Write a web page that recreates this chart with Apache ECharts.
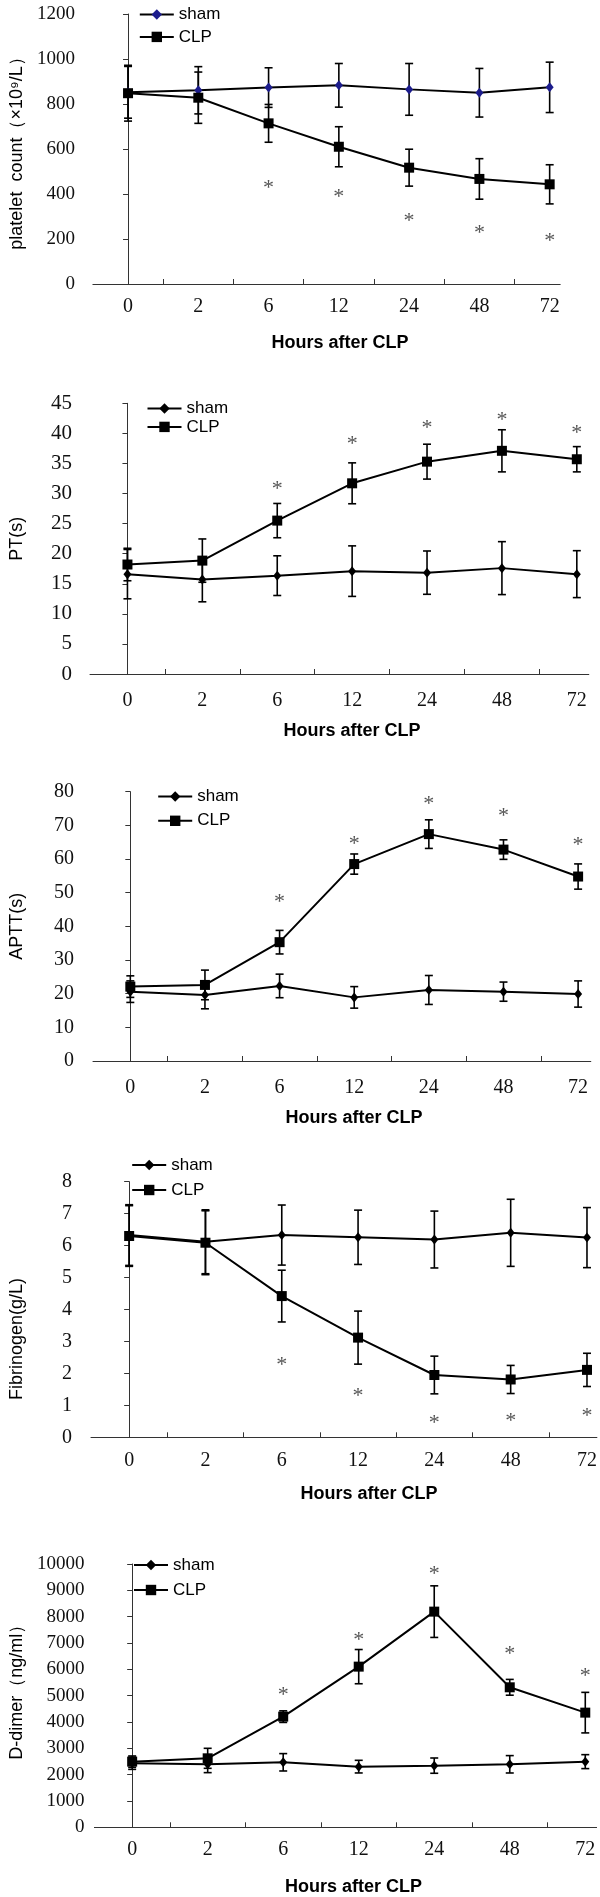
<!DOCTYPE html>
<html><head><meta charset="utf-8">
<script src="https://cdn.jsdelivr.net/npm/echarts@6/dist/echarts.min.js"></script>
<style>html,body{margin:0;padding:0;background:#fff}#c{width:600px;height:1897px}</style>
</head><body><div id="c"></div>
<script>
// ---- data ----
const categories = ['0', '2', '6', '12', '24', '48', '72'];

const plateletSham    = [852, 861, 873, 883, 865, 850, 874];
const plateletShamErr = [115, 105, 88, 97, 115, 108, 112];
const plateletCLP     = [848, 828, 714, 610, 517, 467, 443];
const plateletCLPErr  = [124, 114, 84, 89, 82, 90, 87];
const plateletStar    = [null, null, 450, 406, 302, 247, 213];
const plateletTicks   = [0, 1200, 200];

const ptSham    = [16.6, 15.7, 16.35, 17.1, 16.85, 17.6, 16.6];
const ptShamErr = [4.1, 3.7, 3.3, 4.2, 3.6, 4.4, 3.9];
const ptCLP     = [18.2, 18.85, 25.5, 31.7, 35.3, 37.1, 35.7];
const ptCLPErr  = [2.7, 3.6, 2.85, 3.4, 2.9, 3.5, 2.1];
const ptStar    = [null, null, 31.6, 39.1, 41.7, 43.1, 40.9];
const ptTicks   = [0, 45, 5];

const apttSham    = [20.6, 19.6, 22.3, 18.9, 21.1, 20.6, 19.9];
const apttShamErr = [3.2, 4.1, 3.5, 3.2, 4.3, 2.85, 3.9];
const apttCLP     = [22.1, 22.6, 35.3, 58.5, 67.4, 62.8, 54.8];
const apttCLPErr  = [3.2, 4.4, 3.5, 3.0, 4.25, 2.9, 3.75];
const apttStar    = [null, null, 48.8, 65.9, 77.7, 74.1, 65.6];
const apttTicks   = [0, 80, 10];

const fibSham    = [6.33, 6.12, 6.33, 6.26, 6.19, 6.40, 6.25];
const fibShamErr = [0.95, 1.0, 0.94, 0.85, 0.89, 1.05, 0.94];
const fibCLP     = [6.30, 6.09, 4.42, 3.12, 1.95, 1.81, 2.11];
const fibCLPErr  = [0.95, 1.0, 0.81, 0.83, 0.59, 0.44, 0.52];
const fibStar    = [null, null, 2.40, 1.43, 0.59, 0.65, 0.83];
const fibTicks   = [0, 8, 1];

const ddSham    = [2430, 2393, 2469, 2304, 2342, 2393, 2494];
const ddShamErr = [230, 317, 330, 240, 290, 330, 265];
const ddCLP     = [2494, 2620, 4203, 6102, 8191, 5317, 4355];
const ddCLPErr  = [215, 380, 220, 650, 980, 300, 770];
const ddStar    = [null, null, 5190, 7305, 9812, 6773, 5938];
const ddTicks   = [0, 10000, 1000];

const xTitle = 'Hours after CLP';
const legendNames = ['sham', 'CLP'];

// ---- layout (positions/styles only) ----
const panels = [
  { yName: 'platelet  count（×10⁹/L）', sham: plateletSham, shamErr: plateletShamErr, clp: plateletCLP, clpErr: plateletCLPErr, star: plateletStar, ticks: plateletTicks,
    grid: {left: 90.3, top: 14, width: 469.9, height: 270}, xMax: 6.15, yFont: 19, yMargin: 18, yGap: 66, yPad: [0,0,0,0],
    xMargin: 12.7, xGap: 50, xPad: [0,0,0,27], legend: {left: 133.8, top: 1, gap: 5.4}, shamColor: '#1c1c8c' },
  { yName: 'PT(s)', sham: ptSham, shamErr: ptShamErr, clp: ptCLP, clpErr: ptCLPErr, star: ptStar, ticks: ptTicks,
    grid: {left: 88, top: 403.3, width: 500.8, height: 270.7}, xMax: 6.16, yFont: 21, yMargin: 18, yGap: 64, yPad: [0,0,0,0],
    xMargin: 16.5, xGap: 48.5, xPad: [0,0,0,25], legend: {left: 141.5, top: 395, gap: 1.4}, shamColor: '#000' },
  { yName: 'APTT(s)', sham: apttSham, shamErr: apttShamErr, clp: apttCLP, clpErr: apttCLPErr, star: apttStar, ticks: apttTicks,
    grid: {left: 91.9, top: 791.7, width: 498.9, height: 269.3}, xMax: 6.17, yFont: 20, yMargin: 19, yGap: 67, yPad: [0,0,0,0],
    xMargin: 17, xGap: 48.3, xPad: [0,0,0,24], legend: {left: 152.2, top: 783, gap: 7.3}, shamColor: '#000' },
  { yName: 'Fibrinogen(g/L)', sham: fibSham, shamErr: fibShamErr, clp: fibCLP, clpErr: fibCLPErr, star: fibStar, ticks: fibTicks,
    grid: {left: 89, top: 1181.7, width: 507.9, height: 255.6}, xMax: 6.13, yFont: 20, yMargin: 19, yGap: 65, yPad: [0,59,0,0],
    xMargin: 13.4, xGap: 47.4, xPad: [0,0,0,50], legend: {left: 126.2, top: 1151.5, gap: 8}, shamColor: '#000' },
  { yName: 'D-dimer（ng/ml）', sham: ddSham, shamErr: ddShamErr, clp: ddCLP, clpErr: ddCLPErr, star: ddStar, ticks: ddTicks,
    grid: {left: 89.2, top: 1564, width: 507.4, height: 263.3}, xMax: 6.15, yFont: 19, yMargin: 10, yGap: 68, yPad: [0,0,0,16],
    xMargin: 12.7, xGap: 50.4, xPad: [0,0,0,16], legend: {left: 128, top: 1551.5, gap: 8}, shamColor: '#000' }
];

function errorBar(params, api) {
  const x = api.value(0), v = api.value(1), e = api.value(2);
  const hi = api.coord([x, v + e]);
  const lo = api.coord([x, v - e]);
  const hw = 4;
  const style = {stroke: '#000', lineWidth: 1.6};
  return {type: 'group', children: [
    {type: 'line', shape: {x1: hi[0], y1: hi[1], x2: lo[0], y2: lo[1]}, style: style},
    {type: 'line', shape: {x1: hi[0] - hw, y1: hi[1], x2: hi[0] + hw, y2: hi[1]}, style: style},
    {type: 'line', shape: {x1: lo[0] - hw, y1: lo[1], x2: lo[0] + hw, y2: lo[1]}, style: style}
  ]};
}
function starMark(params, api) {
  const p = api.coord([api.value(0), api.value(1)]);
  return {type: 'text', x: p[0], y: p[1] + 5,
    style: {text: '*', font: '22px "Liberation Serif"', fill: '#555', align: 'center', verticalAlign: 'middle'}};
}

const grids = [], xAxes = [], yAxes = [], series = [], legends = [];
const labelIdx = categories.map((c, j) => j);
const tickIdx = categories.slice(0, -1).map((c, j) => j + 0.5);

panels.forEach((p, i) => {
  grids.push(Object.assign({containLabel: false}, p.grid));
  xAxes.push({
    type: 'value', gridIndex: i, min: -0.5, max: p.xMax,
    axisLine: {lineStyle: {color: '#333', width: 1}},
    axisTick: {inside: true, length: 5, customValues: tickIdx, lineStyle: {color: '#333'}},
    axisLabel: {customValues: labelIdx, formatter: v => categories[Math.round(v)], margin: p.xMargin,
      fontFamily: 'Liberation Serif', fontSize: 20, color: '#111'},
    splitLine: {show: false},
    name: xTitle, nameLocation: 'middle', nameGap: p.xGap,
    nameTextStyle: {fontFamily: 'Liberation Sans', fontWeight: 'bold', fontSize: 18, color: '#000', padding: p.xPad}
  });
  yAxes.push({
    type: 'value', gridIndex: i, min: p.ticks[0], max: p.ticks[1], interval: p.ticks[2],
    axisLine: {show: true, lineStyle: {color: '#333', width: 1}},
    axisTick: {show: true, inside: false, length: 5, lineStyle: {color: '#333'}},
    axisLabel: {margin: p.yMargin, fontFamily: 'Liberation Serif', fontSize: p.yFont, color: '#111',
      formatter: v => String(v)},
    splitLine: {show: false},
    name: p.yName, nameLocation: 'middle', nameGap: p.yGap,
    nameTextStyle: {fontFamily: 'Liberation Sans', fontSize: 18, color: '#000', padding: p.yPad}
  });
  const pts = arr => arr.map((v, j) => [j, v]);
  const errs = (arr, e) => arr.map((v, j) => [j, v, e[j]]);
  series.push({type: 'custom', xAxisIndex: i, yAxisIndex: i, renderItem: errorBar, data: errs(p.sham, p.shamErr), z: 1, silent: true});
  series.push({type: 'custom', xAxisIndex: i, yAxisIndex: i, renderItem: errorBar, data: errs(p.clp, p.clpErr), z: 1, silent: true});
  series.push({name: 'sham', type: 'line', xAxisIndex: i, yAxisIndex: i, data: pts(p.sham),
    symbol: 'diamond', symbolSize: [8, 10], lineStyle: {color: '#000', width: 2},
    itemStyle: {color: p.shamColor}, z: 3});
  series.push({name: 'CLP', type: 'line', xAxisIndex: i, yAxisIndex: i, data: pts(p.clp),
    symbol: 'rect', symbolSize: 10, lineStyle: {color: '#000', width: 2},
    itemStyle: {color: '#000'}, z: 4});
  series.push({type: 'custom', xAxisIndex: i, yAxisIndex: i, renderItem: starMark,
    data: p.star.map((v, j) => [j, v]).filter(d => d[1] !== null), z: 5, silent: true});
  legends.push({
    orient: 'vertical', left: p.legend.left, top: p.legend.top, itemGap: p.legend.gap,
    itemWidth: 34, itemHeight: 13,
    data: [{name: legendNames[0], itemStyle: {color: p.shamColor}, lineStyle: {color: '#000', width: 2}},
           {name: legendNames[1], itemStyle: {color: '#000'}, lineStyle: {color: '#000', width: 2}}],
    textStyle: {fontFamily: 'Liberation Sans', fontSize: 17, color: '#000', lineHeight: 17},
    selectedMode: false
  });
});

const chart = echarts.init(document.getElementById('c'), null, {renderer: 'canvas'});
chart.setOption({
  backgroundColor: '#fff',
  animation: false,
  grid: grids, xAxis: xAxes, yAxis: yAxes, series: series, legend: legends
});
</script></body></html>
